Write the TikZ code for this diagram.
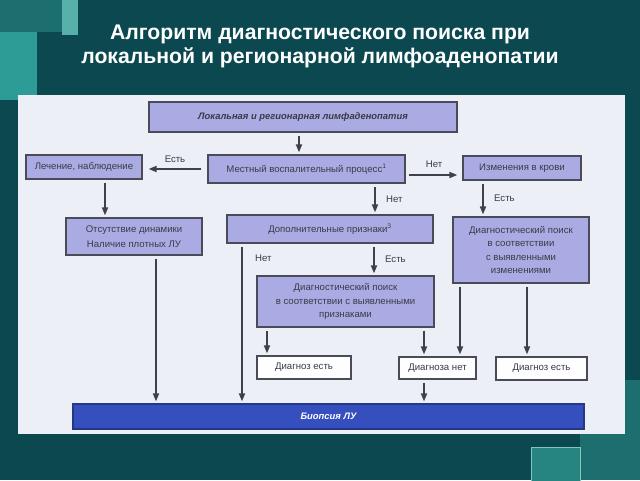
\documentclass[tikz,border=0pt]{standalone}
\usepackage{fontspec}
\setmainfont{Liberation Sans}
\usetikzlibrary{arrows.meta}

\definecolor{bgteal}{HTML}{0B4850}
\definecolor{midteal}{HTML}{1C6F6E}
\definecolor{liteal}{HTML}{2E9C96}
\definecolor{panel}{HTML}{EDEFF7}
\definecolor{boxfill}{HTML}{AAABE2}
\definecolor{boxline}{HTML}{4A4A58}
\definecolor{boxtext}{HTML}{3A3A48}
\definecolor{biopblue}{HTML}{3550BE}
\definecolor{arrgray}{HTML}{404048}

\tikzset{
  box/.style={draw=boxline, fill=boxfill, line width=1.2pt, text=boxtext,
    font=\fontsize{9.6}{13.2}\selectfont, align=center, inner sep=1pt},
  whitebox/.style={box, fill=white!96!panel},
  arr/.style={-{Triangle[length=8pt,width=6pt]}, line width=1.7pt, arrgray,
    shorten <=3pt, shorten >=2pt},
  lbl/.style={text=boxtext, font=\fontsize{9.6}{10}\selectfont}
}

\begin{document}
\begin{tikzpicture}[x=1pt,y=-1pt]

  \useasboundingbox (0,0) rectangle (640,480);
  \fill[bgteal] (0,0) rectangle (640,480);

  % corner blocks
  \fill[liteal] (0,32) rectangle (37,100);
  \fill[midteal] (0,0) rectangle (62,32);
  \fill[liteal!80!white] (62,0) rectangle (78,35);
  \fill[midteal] (580,434) rectangle (640,480);
  \fill[midteal] (625,380) rectangle (640,480);
  \filldraw[liteal!85!black, draw=liteal!60!white, line width=1pt] (531,447) rectangle (580,482);

  \node[text=white, font=\bfseries\fontsize{21.2}{24}\selectfont, align=center] (title) at (320,46)
    {Алгоритм диагностического поиска при\\локальной и регионарной лимфоаденопатии};

  \fill[panel] (18,95) rectangle (625,434);

  \node[box, minimum width=308pt, minimum height=30pt, font=\bfseries\itshape\fontsize{9.4}{10}\selectfont] (lymph) at (303,117)
    {Локальная и регионарная лимфаденопатия};
  \node[box, minimum width=197pt, minimum height=28pt] (local) at (306.5,169)
    {Местный воспалительный процесс\textsuperscript{1}};
  \node[box, minimum width=116pt, minimum height=24pt] (treat) at (84,167)
    {Лечение, наблюдение};
  \node[box, minimum width=118pt, minimum height=24pt] (blood) at (522,168)
    {Изменения в крови};
  \node[box, minimum width=136pt, minimum height=37pt] (nodyn) at (134,236.5)
    {Отсутствие динамики\\[2pt]Наличие плотных ЛУ};
  \node[box, minimum width=206pt, minimum height=28pt] (extra) at (330,229)
    {Дополнительные признаки\textsuperscript{3}};
  \node[box, minimum width=136pt, minimum height=66pt] (searchB) at (521,250)
    {Диагностический поиск\\в соответствии\\с выявленными\\изменениями};
  \node[box, minimum width=177pt, minimum height=51pt] (searchE) at (345.5,301.5)
    {Диагностический поиск\\в соответствии с выявленными\\признаками};
  \node[whitebox, minimum width=94pt, minimum height=23pt] (diagL) at (304,367.5)
    {Диагноз есть};
  \node[whitebox, minimum width=77pt, minimum height=22pt] (nodiag) at (437.5,368)
    {Диагноза нет};
  \node[whitebox, minimum width=91pt, minimum height=23pt] (diagR) at (541.5,368.5)
    {Диагноз есть};
  \node[box, fill=biopblue, draw=biopblue!70!black, text=white, minimum width=511pt, minimum height=25pt,
    font=\bfseries\itshape\fontsize{9.4}{10}\selectfont] (biopsy) at (328.5,416.5)
    {Биопсия ЛУ};

  % arrows
  \draw[arr] (lymph.south -| 299,0) -- (local.north -| 299,0);
  \draw[arr, shorten <=6pt, shorten >=6pt] (local.west) -- (treat.east |- local.west)
    node[lbl, midway, above=2pt] {Есть};
  \draw[arr, shorten >=5pt] (local.east |- 0,175) -- (blood.west |- 0,175)
    node[lbl, midway, above=3pt] {Нет};
  \draw[arr] (local.south -| 375,0) -- (extra.north -| 375,0)
    node[lbl, midway, right=7pt] {Нет};
  \draw[arr] (blood.south -| 483,0) -- (searchB.north -| 483,0)
    node[lbl, midway, right=7pt] {Есть};
  \draw[arr] (treat.south -| 105,0) -- (nodyn.north -| 105,0);
  \draw[arr] (nodyn.south -| 156,0) -- (biopsy.north -| 156,0);
  \draw[arr] (extra.south -| 242,0) -- (biopsy.north -| 242,0)
    node[lbl, pos=0.09, right=9pt] {Нет};
  \draw[arr] (extra.south -| 374,0) -- (searchE.north -| 374,0)
    node[lbl, midway, right=7pt] {Есть};
  \draw[arr] (searchE.south -| 267,0) -- (diagL.north -| 267,0);
  \draw[arr] (searchE.south -| 424,0) -- (nodiag.north -| 424,0);
  \draw[arr] (searchB.south -| 460,0) -- (nodiag.north -| 460,0);
  \draw[arr] (searchB.south -| 527,0) -- (diagR.north -| 527,0);
  \draw[arr] (nodiag.south -| 424,0) -- (biopsy.north -| 424,0);

\end{tikzpicture}
\end{document}
